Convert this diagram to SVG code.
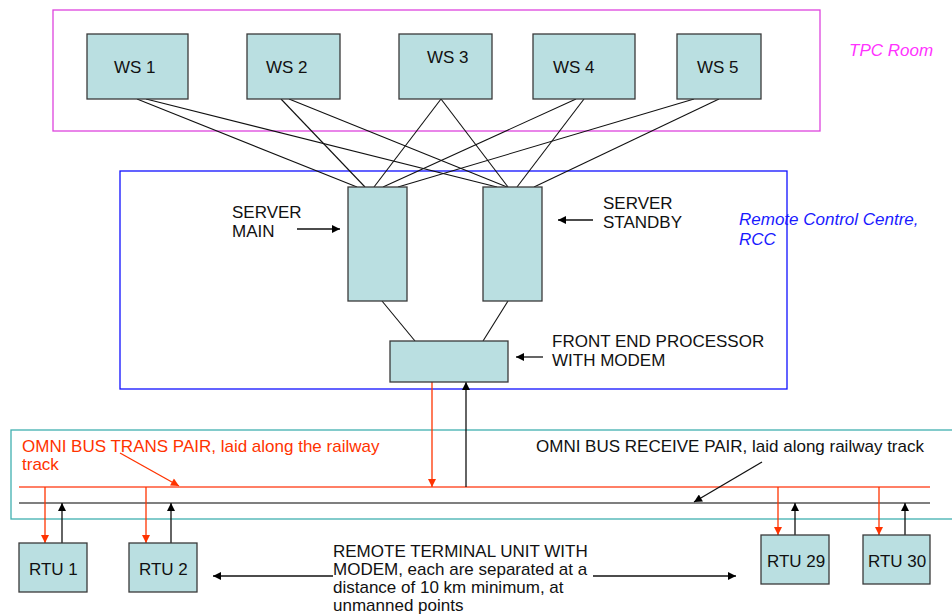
<svg xmlns="http://www.w3.org/2000/svg" width="952" height="616" viewBox="0 0 952 616">
<defs>
<marker id="ah" viewBox="0 0 10 10" refX="10" refY="5" markerWidth="9" markerHeight="8" markerUnits="userSpaceOnUse" orient="auto"><path d="M0,0 L10,5 L0,10 z" fill="#000"/></marker>
<marker id="ahr" viewBox="0 0 10 10" refX="10" refY="5" markerWidth="9" markerHeight="8" markerUnits="userSpaceOnUse" orient="auto"><path d="M0,0 L10,5 L0,10 z" fill="#ff3300"/></marker>
</defs>
<style>
.box{fill:#badfe1;stroke:#3a3a3a;stroke-width:1.3}
.t{font-family:"Liberation Sans",Arial,sans-serif;font-size:17px;fill:#111}
.ln{stroke:#111;stroke-width:1.1;fill:none}
.red{stroke:#ff3300;stroke-width:1.3;fill:none}
.blk{stroke:#111;stroke-width:1.3;fill:none}
.red-t{fill:#ff3300}
</style>
<rect width="952" height="616" fill="#fff"/>
<!-- containers -->
<rect id="tpc-room" x="53" y="10" width="767" height="121" fill="none" stroke="#dd44dd" stroke-width="1.3"/>
<text class="t" x="849" y="56" font-style="italic" style="fill:#ff33ff">TPC Room</text>
<rect id="rcc" x="120" y="171" width="667" height="218" fill="none" stroke="#1010ff" stroke-width="1.3"/>
<text class="t" x="739" y="225" font-style="italic" style="fill:#1a1aff">Remote Control Centre,</text>
<text class="t" x="739" y="245" font-style="italic" style="fill:#1a1aff">RCC</text>
<rect id="bus-area" x="11" y="430" width="960" height="89" fill="none" stroke="#40b0b0" stroke-width="1.3"/>

<!-- connectors -->
<g id="connectors">
<line class="ln" x1="137" y1="99" x2="357" y2="187"/>
<line class="ln" x1="146" y1="99" x2="497" y2="187"/>
<line class="ln" x1="281" y1="99" x2="365" y2="187"/>
<line class="ln" x1="289" y1="99" x2="507" y2="187"/>
<line class="ln" x1="441" y1="99" x2="374" y2="187"/>
<line class="ln" x1="441" y1="99" x2="508" y2="187"/>
<line class="ln" x1="576" y1="99" x2="383" y2="187"/>
<line class="ln" x1="584" y1="99" x2="517" y2="187"/>
<line class="ln" x1="694" y1="99" x2="398" y2="187"/>
<line class="ln" x1="719" y1="99" x2="534" y2="187"/>
<line class="ln" x1="382" y1="301" x2="415" y2="341"/>
<line class="ln" x1="508" y1="301" x2="483" y2="341"/>
<!-- label arrows -->
<line class="blk" x1="297" y1="229" x2="340" y2="229" marker-end="url(#ah)"/>
<line class="blk" x1="593" y1="220" x2="558" y2="220" marker-end="url(#ah)"/>
<line class="blk" x1="543" y1="357" x2="516" y2="357" marker-end="url(#ah)"/>
<!-- buses -->
<line x1="19" y1="487" x2="930" y2="487" stroke="#ff5533" stroke-width="1.3"/>
<line x1="19" y1="503" x2="930" y2="503" stroke="#555" stroke-width="1.5"/>
<line class="red" x1="432" y1="382" x2="432" y2="487" marker-end="url(#ahr)"/>
<line class="blk" x1="466" y1="487" x2="466" y2="382" marker-end="url(#ah)"/>
<line class="red" x1="120" y1="453" x2="179" y2="486" marker-end="url(#ahr)"/>
<line class="blk" x1="762" y1="462" x2="694" y2="502" marker-end="url(#ah)"/>
<!-- RTU drops -->
<line class="red" x1="45" y1="487" x2="45" y2="543" marker-end="url(#ahr)"/>
<line class="blk" x1="62" y1="543" x2="62" y2="503" marker-end="url(#ah)"/>
<line class="red" x1="146" y1="487" x2="146" y2="543" marker-end="url(#ahr)"/>
<line class="blk" x1="171" y1="543" x2="171" y2="503" marker-end="url(#ah)"/>
<line class="red" x1="778" y1="487" x2="778" y2="535" marker-end="url(#ahr)"/>
<line class="blk" x1="795" y1="535" x2="795" y2="503" marker-end="url(#ah)"/>
<line class="red" x1="879" y1="487" x2="879" y2="535" marker-end="url(#ahr)"/>
<line class="blk" x1="905" y1="535" x2="905" y2="503" marker-end="url(#ah)"/>
<!-- distance arrows -->
<line class="blk" x1="333" y1="576" x2="213" y2="576" marker-end="url(#ah)"/>
<line class="blk" x1="593" y1="576" x2="736" y2="576" marker-end="url(#ah)"/>
</g>

<!-- nodes -->
<g id="ws1"><rect class="box" x="87" y="34" width="101" height="65"/><text class="t" x="114" y="73">WS 1</text></g>
<g id="ws2"><rect class="box" x="247" y="34" width="93" height="65"/><text class="t" x="266" y="73">WS 2</text></g>
<g id="ws3"><rect class="box" x="399" y="34" width="93" height="65"/><text class="t" x="427" y="63">WS 3</text></g>
<g id="ws4"><rect class="box" x="533" y="34" width="102" height="65"/><text class="t" x="553" y="73">WS 4</text></g>
<g id="ws5"><rect class="box" x="677" y="34" width="84" height="65"/><text class="t" x="697" y="73">WS 5</text></g>

<g id="server-main"><rect class="box" x="348" y="187" width="59" height="114"/>
<text class="t" x="232" y="218">SERVER</text><text class="t" x="232" y="237">MAIN</text></g>
<g id="server-standby"><rect class="box" x="483" y="187" width="59" height="114"/>
<text class="t" x="603" y="209">SERVER</text><text class="t" x="603" y="228">STANDBY</text></g>
<g id="fep"><rect class="box" x="390" y="341" width="118" height="41"/>
<text class="t" x="552" y="347">FRONT END PROCESSOR</text><text class="t" x="552" y="366">WITH MODEM</text></g>

<g id="trans-label"><text class="t red-t" x="22" y="452">OMNI BUS TRANS PAIR, laid along the railway</text><text class="t red-t" x="22" y="470">track</text></g>
<g id="receive-label"><text class="t" x="536" y="452">OMNI BUS RECEIVE PAIR, laid along railway track</text></g>

<g id="rtu1"><rect class="box" x="19" y="543" width="68" height="49"/><text class="t" x="29" y="575">RTU 1</text></g>
<g id="rtu2"><rect class="box" x="129" y="543" width="68" height="49"/><text class="t" x="139" y="575">RTU 2</text></g>
<g id="rtu29"><rect class="box" x="761" y="535" width="68" height="49"/><text class="t" x="767" y="567">RTU 29</text></g>
<g id="rtu30"><rect class="box" x="863" y="535" width="67" height="49"/><text class="t" x="868" y="567">RTU 30</text></g>

<g id="rtu-note">
<text class="t" x="333" y="557">REMOTE TERMINAL UNIT WITH</text>
<text class="t" x="333" y="575">MODEM, each are separated at a</text>
<text class="t" x="333" y="593">distance of 10 km minimum, at</text>
<text class="t" x="333" y="611">unmanned points</text>
</g>
</svg>
